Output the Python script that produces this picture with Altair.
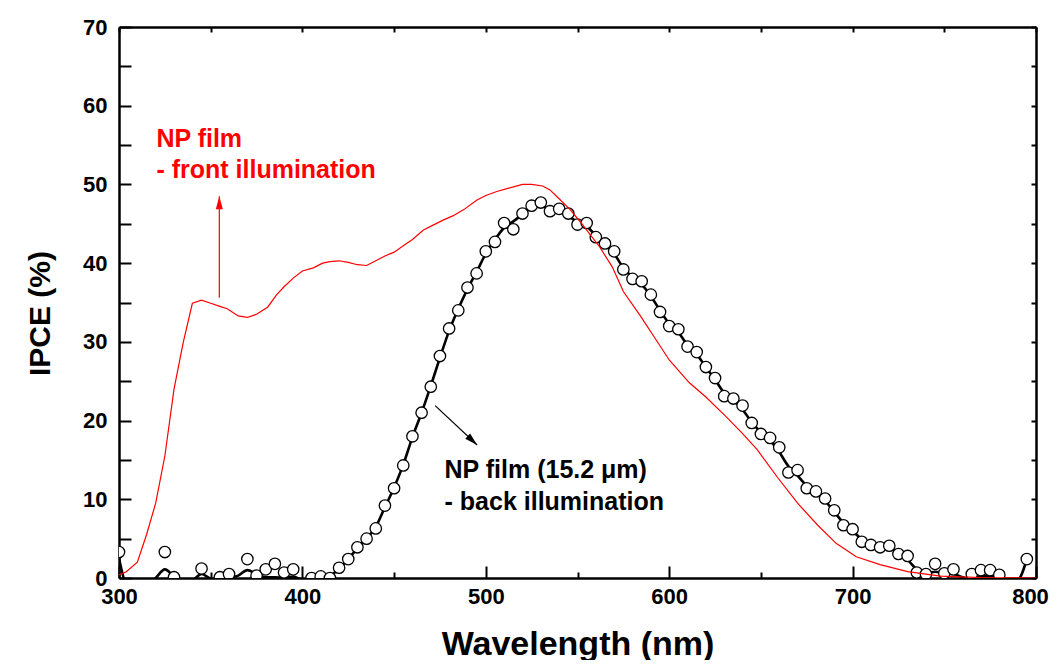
import altair as alt
import pandas as pd

FONT = "Liberation Sans"

# Red curve: NP film, front illumination
red_nm = [300, 304, 310, 315, 320, 325, 330, 335, 340, 345, 350, 355, 359, 365, 370, 375,
          381, 386, 390, 395, 400, 406, 411, 415, 420, 425, 430, 435, 440, 445, 450, 455,
          460, 466, 471, 477, 482, 488, 495, 500, 506, 512, 520, 525, 531, 535, 539, 546,
          552, 557, 562, 569, 575, 584, 593, 600, 611, 620, 631, 639, 648, 659, 670, 681,
          691, 702, 715, 730, 748, 770, 800]
red_ipce = [0.4, 0.8, 2.0, 5.5, 9.5, 15.5, 24.0, 29.9, 34.9, 35.3, 34.9, 34.5, 34.2, 33.3, 33.1, 33.5,
            34.4, 36.0, 37.0, 38.1, 39.0, 39.4, 40.0, 40.2, 40.3, 40.1, 39.8, 39.7, 40.3, 40.9, 41.4, 42.2,
            43.0, 44.2, 44.8, 45.5, 46.0, 46.8, 48.0, 48.6, 49.1, 49.5, 50.0, 50.0, 49.8, 49.3, 48.4, 46.8,
            45.1, 43.6, 42.1, 39.5, 36.4, 33.4, 30.2, 27.7, 24.8, 23.0, 20.5, 18.6, 16.3, 12.8, 9.5, 6.7,
            4.4, 2.7, 1.7, 0.8, 0.25, 0.05, 0.0]

# Black smoothed curve: NP film (15.2 um), back illumination
back_line_nm = list(range(300, 800, 5))
back_line_ipce = [2.5, -1.5, -2.0, -1.0, 0.0, 1.1, 0.2, -0.5, -0.3, 0.5,
                  -0.1, -0.3, 0.0, 0.3, 1.0, 0.5, 0.1, 0.1, 0.0, 0.2,
                  -0.3, -0.8, -0.5, 0.2, 1.2, 2.4, 3.8, 5.0, 6.5, 9.0,
                  11.5, 14.4, 17.9, 21.0, 24.4, 28.0, 31.4, 34.2, 36.7, 38.9,
                  41.2, 43.0, 44.5, 45.3, 46.2, 47.0, 47.2, 46.9, 46.6, 46.0,
                  45.2, 44.7, 43.5, 42.5, 41.2, 39.4, 38.2, 37.3, 35.8, 34.0,
                  32.3, 31.2, 29.6, 28.4, 26.8, 25.2, 23.5, 22.6, 21.4, 19.8,
                  18.5, 17.5, 16.0, 14.2, 13.0, 11.7, 10.8, 9.8, 8.4, 7.0,
                  6.0, 4.9, 4.3, 4.0, 3.8, 3.2, 2.3, 1.1, 0.6, 0.8,
                  0.6, 0.5, 0.1, -0.1, 0.2, 0.3, 0.0, -0.5, -0.3, 2.4]

# Black open circles: measured points
back_pts_nm = [300, 325, 330, 345, 355, 360, 370, 375, 380, 385, 390, 395, 405, 410, 415,
               420, 425, 430, 435, 440, 445, 450, 455, 460, 465, 470, 475, 480, 485, 490,
               495, 500, 505, 510, 515, 520, 525, 530, 535, 540, 545, 550, 555, 560, 565,
               570, 575, 580, 585, 590, 595, 600, 605, 610, 615, 620, 625, 630, 635, 640,
               645, 650, 655, 660, 665, 670, 675, 680, 685, 690, 695, 700, 705, 710, 715,
               720, 725, 730, 735, 740, 745, 750, 755, 765, 770, 775, 780, 795]
back_pts_ipce = [3.3, 3.3, 0.1, 1.2, 0.1, 0.5, 2.4, 0.3, 1.1, 1.8, 0.7, 1.1, 0.0, 0.2, 0.0,
                 1.3, 2.4, 3.9, 5.0, 6.3, 9.2, 11.4, 14.3, 18.0, 21.0, 24.3, 28.2, 31.7, 34.0, 36.9,
                 38.7, 41.5, 42.7, 45.1, 44.3, 46.3, 47.3, 47.7, 46.6, 46.9, 46.3, 44.9, 45.1, 43.3, 42.5,
                 41.5, 39.2, 38.0, 37.7, 36.0, 33.8, 32.0, 31.6, 29.4, 28.7, 26.8, 25.4, 23.1, 22.8, 21.9,
                 19.7, 18.3, 17.8, 16.6, 13.4, 13.7, 11.4, 11.0, 10.1, 8.6, 6.7, 6.2, 4.6, 4.2, 3.9,
                 4.1, 3.05, 2.8, 0.7, 0.5, 1.8, 0.6, 1.1, 0.5, 1.0, 1.0, 0.4, 2.4]

# Axis ticks
x_major = [300, 400, 500, 600, 700, 800]
x_minor = [350, 450, 550, 650, 750]
x_all = [300, 350, 400, 450, 500, 550, 600, 650, 700, 750, 800]
y_ticks = [0, 5, 10, 15, 20, 25, 30, 35, 40, 45, 50, 55, 60, 65, 70]

# Annotations
ann_text = ["NP film", "- front illumination", "NP film (15.2 \u03bcm)", "- back illumination"]
ann_nm = [320.4, 320.4, 477.5, 477.5]
ann_ipce = [54.8, 50.8, 12.7, 8.6]
ann_color = ["#ff0000", "#ff0000", "#000000", "#000000"]

arrow_nm = [354.7, 472.4]
arrow_nm2 = [354.7, 495.3]
arrow_ipce = [35.6, 21.9]
arrow_ipce2 = [48.5, 16.9]
arrow_color = ["#ff0000", "#000000"]
arrow_angle = [0, 133]

xscale = alt.Scale(domain=[300, 800], nice=False, zero=False)
yscale = alt.Scale(domain=[0, 70], nice=False, zero=False)

red_df = pd.DataFrame({"nm": red_nm, "ipce": red_ipce})
line_df = pd.DataFrame({"nm": back_line_nm, "ipce": back_line_ipce})
pts_df = pd.DataFrame({"nm": back_pts_nm, "ipce": back_pts_ipce})
ann_df = pd.DataFrame({"nm": ann_nm, "ipce": ann_ipce, "text": ann_text, "color": ann_color})
arr_df = pd.DataFrame({"nm": arrow_nm, "nm2": arrow_nm2, "ipce": arrow_ipce, "ipce2": arrow_ipce2,
                       "color": arrow_color, "angle": arrow_angle})

common_axis = dict(grid=False, domainColor="black", tickColor="black", labelColor="black",
                   titleColor="black", labelFont=FONT, titleFont=FONT,
                   labelFontWeight="bold", titleFontWeight="bold")

x_main_axis = alt.Axis(orient="bottom", values=x_major, format="d",
                       tickSize=alt.ExprRef(expr="-12"), tickWidth=2, domainWidth=2.5,
                       labelFontSize=22, labelPadding=20, labelFlush=False, labelOverlap=False,
                       labelOffset={"condition": {"test": "datum.value === 800", "value": -6},
                                    "value": 0},
                       title="Wavelength (nm)", titleFontSize=34, titleX=458.5, titleY=76,
                       titleAlign="center", titleBaseline="alphabetic", **common_axis)
y_main_axis = alt.Axis(orient="left", values=y_ticks, format="d",
                       labelExpr="datum.value % 10 === 0 ? datum.label : ''",
                       tickSize=alt.ExprRef(expr="-12"), tickWidth=2, domainWidth=2.5,
                       labelFontSize=22, labelPadding=24, labelFlush=False, labelOverlap=False,
                       title="IPCE (%)", titleFontSize=30, titleAngle=270, titleX=-79, titleY=286,
                       titleAlign="center", titleBaseline="middle", **common_axis)
x_minor_axis = alt.Axis(orient="bottom", values=x_minor, labels=False, domain=False,
                        tickSize=alt.ExprRef(expr="-6"), tickWidth=2, title=None, **common_axis)
y_right_axis = alt.Axis(orient="right", values=y_ticks, labels=False, domainWidth=2.5,
                        tickSize=alt.ExprRef(expr="-5"), tickWidth=2, title=None, **common_axis)
x_top_axis = alt.Axis(orient="top", values=x_all, labels=False, domainWidth=2.5,
                      tickSize=alt.ExprRef(expr="-5"), tickWidth=2, title=None, **common_axis)

black_line = alt.Chart(line_df).mark_line(color="black", strokeWidth=2.6, clip=True,
                                          interpolate="monotone").encode(
    x=alt.X("nm:Q", scale=xscale, axis=x_minor_axis),
    y=alt.Y("ipce:Q", scale=yscale, axis=y_right_axis),
)

circles = alt.Chart(pts_df).mark_point(shape="circle", filled=True, fill="white", stroke="black",
                                       strokeWidth=1.3, size=130, opacity=1, clip=True).encode(
    x=alt.X("nm:Q", scale=xscale, axis=x_top_axis),
    y=alt.Y("ipce:Q", scale=yscale, axis=None),
)

red_line = alt.Chart(red_df).mark_line(color="#ff0000", strokeWidth=1.2, clip=True).encode(
    x=alt.X("nm:Q", scale=xscale, axis=x_main_axis),
    y=alt.Y("ipce:Q", scale=yscale, axis=y_main_axis),
)

texts = alt.Chart(ann_df).mark_text(font=FONT, fontWeight="bold", fontSize=25, align="left",
                                    baseline="alphabetic").encode(
    x=alt.X("nm:Q", scale=xscale, axis=None),
    y=alt.Y("ipce:Q", scale=yscale, axis=None),
    text="text:N",
    color=alt.Color("color:N", scale=None),
)

arrow_lines = alt.Chart(arr_df).mark_rule(strokeWidth=1.2).encode(
    x=alt.X("nm:Q", scale=xscale, axis=None),
    x2="nm2:Q",
    y=alt.Y("ipce:Q", scale=yscale, axis=None),
    y2="ipce2:Q",
    color=alt.Color("color:N", scale=None),
)

arrow_heads = alt.Chart(arr_df).mark_point(shape="M0,0L0.6,2.2L-0.6,2.2Z", filled=True,
                                           size=140, opacity=1).encode(
    x=alt.X("nm2:Q", scale=xscale, axis=None),
    y=alt.Y("ipce2:Q", scale=yscale, axis=None),
    color=alt.Color("color:N", scale=None),
    angle=alt.Angle("angle:Q", scale=None),
)

chart = alt.layer(black_line, circles, red_line, arrow_lines, arrow_heads, texts).resolve_scale(
    x="shared", y="shared"
).resolve_axis(
    x="independent", y="independent"
).properties(
    width=917, height=551,
    autosize=alt.AutoSizeParams(type="none"),
    padding={"left": 111, "top": 19, "right": 15, "bottom": 82},
    background="white",
).configure_view(stroke=None)

chart.save("out.html", embed_options={"renderer": "svg", "actions": False})
